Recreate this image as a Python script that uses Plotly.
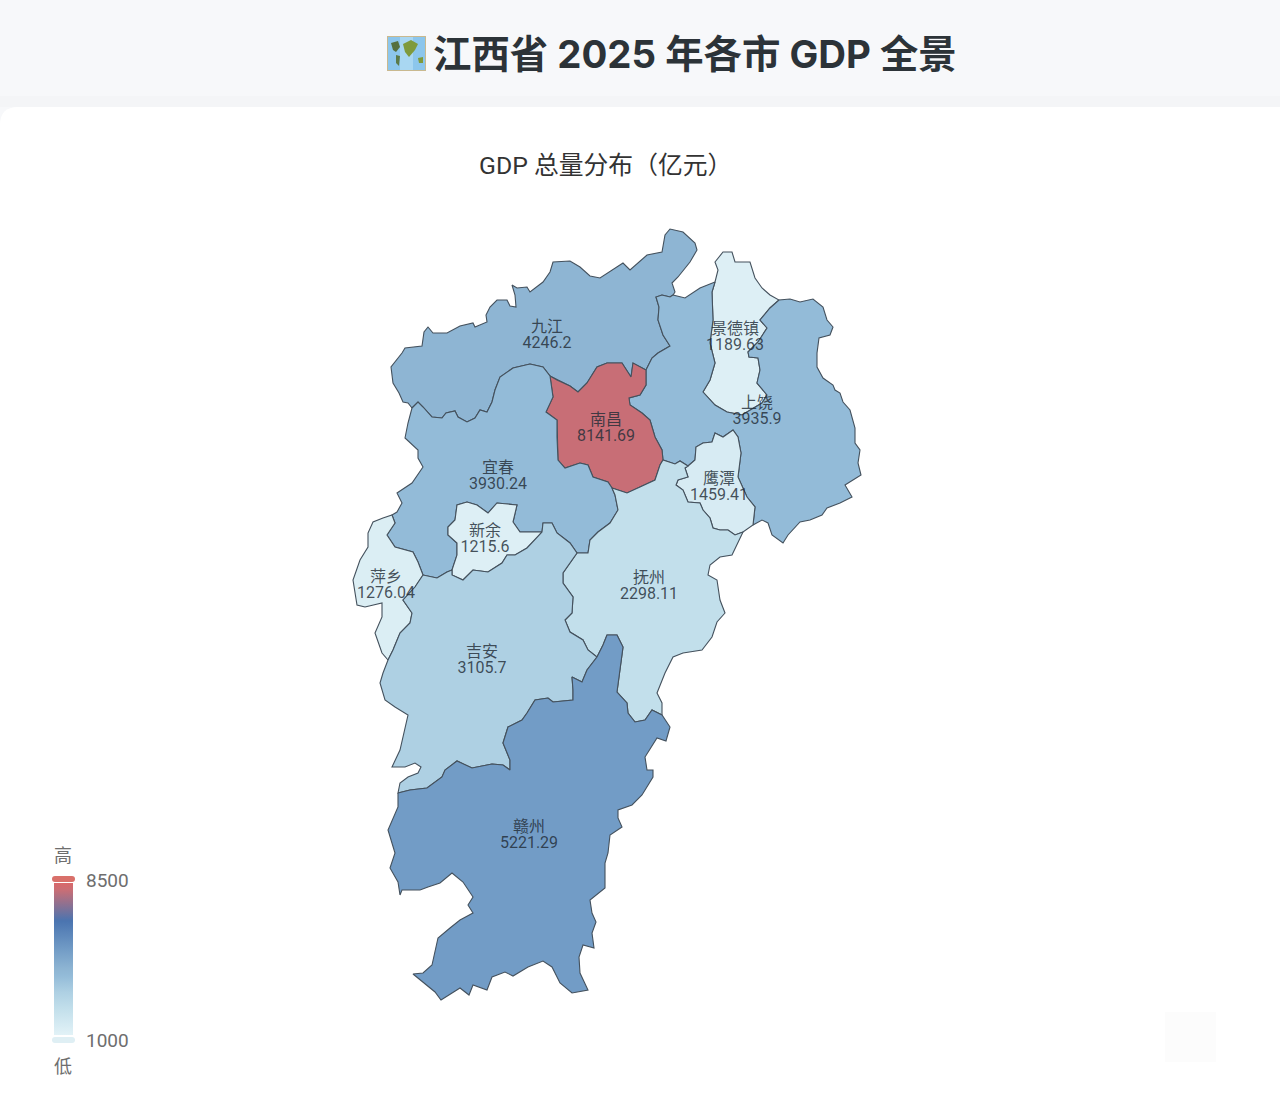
import plotly.graph_objects as go
from plotly.colors import sample_colorscale

W, H = 1280, 1107

city_names = ["九江", "景德镇", "上饶", "南昌", "鹰潭", "宜春", "新余", "萍乡", "抚州", "吉安", "赣州"]
city_gdp = [4246.2, 1189.63, 3935.9, 8141.69, 1459.41, 3930.24, 1215.6, 1276.04, 2298.11, 3105.7, 5221.29]
label_x = [547, 735, 757, 606, 719, 498, 485, 386, 649, 482, 529]
label_y = [336, 338, 412, 429, 488, 477, 540, 586, 587, 661, 836]

gdp_min = 1000
gdp_max = 8500
color_stops = [
    [0.0, "#e2f2f7"], [0.173, "#c2dfeb"], [0.281, "#aed0e3"], [0.39, "#93bbd8"], [0.433, "#8eb5d3"],
    [0.563, "#729cc6"], [0.75, "#4a74b0"], [0.952, "#c86e76"], [1.0, "#d9686a"],
]

# boundary pieces, each shared by the two cities either side
jj_outer = [(412,408),(408,403),(403,402),(399,393),(393,383),(391,367),(402,353),(405,348),(422,346),(424,332),(428,327),(433,333),(447,333),(460,326),(473,323),(475,327),(487,322),(486,315),(490,307),(497,300),(507,300),(510,306),(516,307),(515,295),(512,285),(517,288),(527,287),(530,292),(543,282),(550,272),(553,262),(570,261),(580,267),(590,276),(600,278),(613,270),(623,263),(630,270),(647,255),(662,252),(665,235),(670,229),(683,232),(695,243),(697,250),(690,262),(678,277),(672,283),(675,292),(673,295)]
jj_sr = [(673,295),(670,297),(662,295),(656,297),(659,307),(658,320),(663,335),(670,346),(658,353),(652,358),(646,370)]
jj_nc = [(646,370),(633,363),(631,377),(622,363),(607,363),(597,367),(587,383),(578,392),(570,386),(557,380),(550,376)]
jj_yc = [(550,376),(543,367),(530,364),(513,368),(500,377),(495,390),(492,402),(487,412),(480,410),(475,418),(467,422),(458,417),(455,411),(446,413),(442,418),(432,417),(423,407),(418,402),(412,408)]
nc_yc = [(550,376),(553,397),(546,412),(557,420),(557,437),(558,460),(565,468),(580,463),(588,465),(593,477),(608,482),(612,488)]
nc_fz = [(612,488),(627,493),(640,487),(655,480),(660,465),(663,460)]
nc_sr = [(646,370),(646,385),(640,395),(629,398),(630,405),(642,413),(650,420),(655,437),(662,450),(663,460)]
sr_north = [(673,295),(685,298),(700,288),(715,282)]
jdz_north = [(715,282),(718,270),(715,262),(723,252),(732,252),(735,262),(750,262),(755,278),(762,288),(770,295),(779,300)]
jdz_east = [(779,300),(770,308),(760,320),(767,328),(758,342),(748,352),(749,357),(758,358),(760,370),(757,383),(767,395),(762,403),(742,415),(727,412)]
jdz_west = [(727,412),(715,405),(703,392),(710,380),(715,363),(710,343),(713,320),(712,292),(715,282)]
sr_outer = [(779,300),(790,299),(800,302),(813,299),(823,307),(827,320),(833,327),(830,335),(819,338),(817,353),(817,367),(823,378),(833,385),(835,390),(840,393),(843,402),(850,410),(855,428),(855,443),(860,450),(858,463),(861,475),(845,485),(852,497),(840,503),(827,508),(822,515),(810,520),(800,522),(788,535),(783,543),(772,535),(768,523),(762,520),(753,525)]
yt_sr = [(688,466),(695,460),(696,447),(703,443),(712,442),(715,433),(723,437),(733,430),(738,437),(741,453),(738,477),(747,497),(755,507),(753,525)]
yt_outer = [(753,525),(743,532)]
yt_fz = [(743,532),(735,535),(728,530),(720,530),(713,528),(710,518),(703,510),(700,503),(688,502),(683,490),(676,485),(678,480),(688,477),(685,468),(688,466)]
sr_fz = [(663,460),(675,464),(680,461),(688,466)]
fz_outer = [(743,532),(738,542),(732,555),(720,557),(710,565),(708,575),(717,580),(720,600),(725,613),(717,622),(712,637),(702,650),(683,653),(673,657),(665,673),(657,693),(662,703),(662,715)]
fz_gz = [(662,715),(652,710),(645,720),(635,722),(628,713),(627,703),(617,692),(623,647),(617,635),(607,635),(603,645),(597,657)]
fz_ja = [(597,657),(588,650),(583,640),(570,632),(565,620),(572,613),(573,597),(563,583),(563,573),(577,553)]
yc_fz = [(577,553),(588,553),(590,540),(598,532),(610,523),(618,510),(615,495),(612,488)]
yc_ja_east = [(577,553),(570,543),(557,533),(552,523),(543,523),(542,532)]
xy_yc = [(542,532),(520,532),(513,522),(517,505),(497,503),(488,513),(477,505),(467,502),(457,505),(455,520),(448,527),(448,535),(457,543),(457,555),(452,570)]
xy_ja = [(542,532),(537,538),(527,548),(515,555),(507,555),(502,563),(488,572),(473,570),(463,580),(452,575),(452,570)]
yc_ja_west = [(452,570),(447,572),(437,578),(423,575)]
yc_px = [(423,575),(418,562),(413,552),(395,547),(387,535),(395,523),(392,515)]
yc_outer = [(412,408),(408,423),(405,438),(418,450),(418,458),(423,467),(412,483),(397,493),(402,503),(397,512),(392,515)]
px_outer = [(392,515),(383,518),(373,522),(368,533),(368,547),(360,560),(353,580),(357,605),(365,607),(382,603),(382,617),(375,633),(382,653),(388,660)]
px_ja = [(423,575),(415,587),(403,600),(412,613),(410,623),(400,633),(393,650),(388,660)]
ja_outer = [(388,660),(383,673),(380,683),(385,700),(395,707),(408,715),(405,730),(400,750),(392,767),(405,767),(415,763),(421,767),(418,773),(408,777),(400,783),(398,793)]
ja_gz = [(597,657),(587,670),(582,682),(572,677),(573,690),(573,700),(553,702),(548,698),(535,700),(527,713),(522,720),(508,727),(503,743),(510,760),(510,770),(503,765),(492,764),(472,768),(457,761),(445,770),(442,777),(427,788),(410,790),(398,793)]
gz_outer = [(662,715),(670,727),(666,741),(657,738),(645,757),(647,770),(653,770),(653,777),(642,795),(632,805),(618,810),(618,818),(622,827),(610,835),(608,853),(605,863),(605,888),(590,900),(592,913),(596,922),(592,933),(594,948),(583,945),(579,957),(580,973),(588,990),(572,993),(560,983),(552,967),(543,961),(528,967),(513,976),(505,972),(492,977),(487,990),(473,985),(469,995),(460,988),(441,1000),(435,992),(413,974),(423,973),(432,965),(438,938),(450,928),(460,920),(473,913),(468,905),(473,897),(463,882),(452,873),(440,883),(428,887),(420,890),(402,890),(400,895),(398,882),(390,868),(395,853),(388,830),(398,807),(398,793)]


def rev(piece):
    return piece[::-1]


city_rings = {
    "九江": [jj_outer, jj_sr, jj_nc, jj_yc],
    "南昌": [rev(jj_nc), nc_sr, rev(nc_fz), rev(nc_yc)],
    "宜春": [rev(jj_yc), nc_yc, rev(yc_fz), yc_ja_east, xy_yc, yc_ja_west, yc_px, rev(yc_outer)],
    "上饶": [sr_north, rev(jdz_west), rev(jdz_east), sr_outer, rev(yt_sr), rev(sr_fz), rev(nc_sr), rev(jj_sr)],
    "景德镇": [jdz_north, jdz_east, jdz_west],
    "鹰潭": [yt_sr, yt_outer, yt_fz],
    "抚州": [nc_fz, sr_fz, rev(yt_fz), fz_outer, fz_gz, fz_ja, yc_fz],
    "新余": [rev(xy_yc), xy_ja],
    "萍乡": [rev(px_outer), rev(yc_px), px_ja],
    "吉安": [rev(px_ja), rev(yc_ja_west), rev(xy_ja), rev(yc_ja_east), rev(fz_ja), ja_gz, rev(ja_outer)],
    "赣州": [rev(ja_gz), rev(fz_gz), gz_outer],
}

LABEL_FONT = "Roboto, 'Noto Sans CJK SC', sans-serif"
TITLE_FONT = "Inter, 'Noto Sans CJK SC', sans-serif"
CJK_FONT = "Roboto, 'Noto Sans CJK SC', sans-serif"
label_color = "rgba(35,45,55,0.82)"
legend_color = "#6e6e6e"

fig = go.Figure()
for name, gdp in zip(city_names, city_gdp):
    ring = []
    for piece in city_rings[name]:
        for pt in piece:
            if not ring or ring[-1] != pt:
                ring.append(pt)
    color = sample_colorscale(color_stops, (gdp - gdp_min) / (gdp_max - gdp_min))[0]
    fig.add_trace(go.Scatter(
        x=[p[0] for p in ring], y=[p[1] for p in ring], mode="lines", fill="toself", fillcolor=color,
        line=dict(color="#44515d", width=1.1), name=name, hovertemplate=f"{name}: {gdp}<extra></extra>",
    ))

fig.add_trace(go.Scatter(
    x=label_x, y=[y - 8 for y in label_y], text=city_names, mode="text+markers",
    textfont=dict(family=CJK_FONT, size=16, color=label_color), hoverinfo="skip",
    marker=dict(size=1, opacity=0, color=city_gdp, cmin=gdp_min, cmax=gdp_max, colorscale=color_stops, showscale=True,
                colorbar=dict(x=54 / W, xanchor="left", xpad=0, ypad=0, y=1 - 1035 / H, yanchor="bottom",
                              lenmode="pixels", len=152, thicknessmode="pixels", thickness=19,
                              outlinewidth=0, borderwidth=0, showticklabels=False, ticks="")),
    textposition="middle center",
))
fig.add_trace(go.Scatter(
    x=label_x, y=[y + 8 for y in label_y], text=[str(v) for v in city_gdp], mode="text",
    textfont=dict(family=LABEL_FONT, size=16, color=label_color), hoverinfo="skip", textposition="middle center",
))


def fx(x):
    return x / W


def fy(y):
    return 1 - y / H


def rounded(x0, y0, x1, y1, r):
    return (f"M{fx(x0 + r)},{fy(y0)} L{fx(x1 - r)},{fy(y0)} Q{fx(x1)},{fy(y0)} {fx(x1)},{fy(y0 + r)} "
            f"L{fx(x1)},{fy(y1 - r)} Q{fx(x1)},{fy(y1)} {fx(x1 - r)},{fy(y1)} "
            f"L{fx(x0 + r)},{fy(y1)} Q{fx(x0)},{fy(y1)} {fx(x0)},{fy(y1 - r)} "
            f"L{fx(x0)},{fy(y0 + r)} Q{fx(x0)},{fy(y0)} {fx(x0 + r)},{fy(y0)} Z")


def paper_path(path, fill, layer="below"):
    return dict(type="path", xref="paper", yref="paper", path=path, fillcolor=fill, line_width=0, layer=layer)


def paper_rect(x0, y0, x1, y1, fill, layer="below"):
    return dict(type="rect", xref="paper", yref="paper", x0=fx(x0), x1=fx(x1), y0=fy(y0), y1=fy(y1),
                fillcolor=fill, line_width=0, layer=layer)


def blob(points, fill):
    path = "M" + " L".join(f"{fx(x)},{fy(y)}" for x, y in points) + " Z"
    return paper_path(path, fill, "above")


shapes = [
    paper_rect(0, 96, W, 107, "#f4f5f7"),
    paper_path(rounded(0, 107, W + 30, H + 30, 18), "#ffffff"),
    paper_rect(1165, 1012, 1216, 1062, "#fcfcfc"),
    # legend handles
    paper_path(rounded(52, 876, 75, 882, 3), "#d9706a", "above"),
    paper_path(rounded(52, 1037, 75, 1043, 3), "#dfeff4", "above"),
    # map emoji of the heading, no emoji font here
    paper_rect(387, 36, 426, 71, "#c9b98f", "above"),
    paper_rect(388, 37, 400, 70, "#8cc6ec", "above"),
    paper_rect(400, 37, 413, 70, "#a9d7f2", "above"),
    paper_rect(413, 37, 425, 70, "#8cc6ec", "above"),
    blob([(391, 43), (398, 41), (400, 47), (396, 52), (393, 50)], "#55703f"),
    blob([(403, 44), (411, 40), (418, 44), (415, 50), (409, 57), (405, 52)], "#7f9a3c"),
    blob([(396, 55), (400, 56), (399, 66), (396, 63)], "#5b7a48"),
    blob([(418, 58), (423, 57), (423, 63), (419, 63)], "#7f9a3c"),
]

annotations = [
    dict(x=fx(694.5), y=fy(54), text="江西省 2025 年各市 GDP 全景", xanchor="center",
         font=dict(family=TITLE_FONT, size=38.4, color="#2c3338", weight="bold")),
    dict(x=fx(605.5), y=fy(166), text="GDP 总量分布（亿元）", xanchor="center",
         font=dict(family=CJK_FONT, size=24.8, color="#333333")),
    dict(x=fx(63), y=fy(855), text="高", xanchor="center", font=dict(family=CJK_FONT, size=18, color=legend_color)),
    dict(x=fx(63), y=fy(1066), text="低", xanchor="center", font=dict(family=CJK_FONT, size=18, color=legend_color)),
    dict(x=fx(84), y=fy(880), text=str(gdp_max), xanchor="left", font=dict(family=LABEL_FONT, size=19, color=legend_color)),
    dict(x=fx(84), y=fy(1040), text=str(gdp_min), xanchor="left", font=dict(family=LABEL_FONT, size=19, color=legend_color)),
]
for a in annotations:
    a["xref"] = "paper"
    a["yref"] = "paper"
    a["showarrow"] = False
    a["yanchor"] = "middle"

fig.update_layout(
    width=W, height=H, margin=dict(l=0, r=0, t=0, b=0), paper_bgcolor="#f7f8fa", plot_bgcolor="rgba(0,0,0,0)",
    shapes=shapes, annotations=annotations, showlegend=False,
    xaxis=dict(range=[0, W], visible=False, fixedrange=True),
    yaxis=dict(range=[H, 0], visible=False, fixedrange=True),
)
fig.write_html("out.html", config={"displayModeBar": False}, post_script="document.body.style.margin='0';")
